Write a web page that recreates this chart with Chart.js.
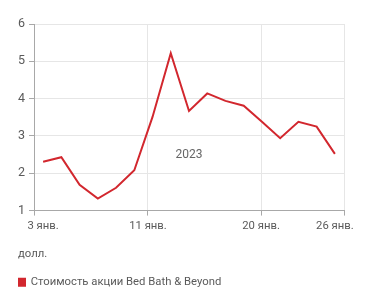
<!DOCTYPE html>
<html>
<head>
<meta charset="utf-8">
<script src="https://cdn.jsdelivr.net/npm/chart.js@4"></script>
<style>
  html, body { margin: 0; padding: 0; background: #fff; }
  #wrap { width: 371px; height: 303px; }
</style>
</head>
<body>
<div id="wrap"><canvas id="chart"></canvas></div>
<script>
// Bed Bath & Beyond share price, trading days 3–26 Jan 2023 (USD)
const prices = [2.31, 2.43, 1.69, 1.32, 1.61, 2.08, 3.51, 5.22, 3.67, 4.14, 3.94, 3.81, 3.38, 2.94, 3.38, 3.25, 2.52];
const dayIndex = prices.map((_, i) => i);

// x axis: grid/tick positions and the labels under them (trading-day index)
const gridTicks = [-0.5, 5.75, 11.95, 16.5];
const labelTicks = [0, 5.75, 11.95, 16];
const xLabels = ['3 янв.', '11 янв.', '20 янв.', '26 янв.'];

const yTicks = [1, 2, 3, 4, 5, 6];

const seriesName = 'Стоимость акции Bed Bath & Beyond';
const unitLabel = 'долл.';
const yearLabel = '2023';

const RED = '#d2272e';
const GRID = '#e6e6e6';
const AXIS = '#a8a8a8';
const TEXT = '#5a5a5a';
const FONT = 'Roboto';

// ── Year annotation in the middle of the plot ──
const yearPlugin = {
    id: 'yearLabel',
    afterDatasetsDraw(chart) {
        const { ctx, scales } = chart;
        ctx.save();
        ctx.font = `12px "${FONT}"`;
        ctx.fillStyle = '#666';
        ctx.textAlign = 'center';
        ctx.textBaseline = 'middle';
        ctx.fillText(yearLabel, scales.x.getPixelForValue(8), scales.y.getPixelForValue(2.5));
        ctx.restore();
    },
};

new Chart(document.getElementById('chart'), {
    type: 'line',
    data: {
        datasets: [{
            label: seriesName,
            data: dayIndex.map(i => ({ x: i, y: prices[i] })),
            borderColor: RED,
            backgroundColor: RED,
            borderWidth: 2,
            pointRadius: 0,
            tension: 0,
        }],
    },
    options: {
        responsive: true,
        maintainAspectRatio: false,
        animation: false,
        layout: { padding: { top: 24, left: 18, right: 27, bottom: 5 } },
        plugins: {
            tooltip: { enabled: false },
            title: {
                display: true,
                text: unitLabel,
                position: 'bottom',
                align: 'start',
                weight: 500,
                color: TEXT,
                font: { family: FONT, size: 11.3, weight: 'normal' },
                padding: { top: 18, bottom: 16 },
            },
            legend: {
                position: 'bottom',
                align: 'start',
                weight: 1000,
                labels: {
                    color: TEXT,
                    font: { family: FONT, size: 11.3 },
                    boxWidth: 7,
                    boxHeight: 7,
                    padding: 0,
                },
            },
        },
        scales: {
            x: {
                type: 'linear',
                position: 'bottom',
                min: -0.5,
                max: 16.5,
                afterBuildTicks: s => { s.ticks = gridTicks.map(v => ({ value: v })); },
                afterFit: s => { s.height = 5; },
                ticks: { display: false },
                grid: { color: GRID, tickColor: AXIS, tickLength: 5 },
                border: { color: AXIS, width: 1 },
            },
            x2: {
                type: 'linear',
                position: 'bottom',
                min: -0.5,
                max: 16.5,
                afterBuildTicks: s => { s.ticks = labelTicks.map(v => ({ value: v })); },
                ticks: {
                    autoSkip: false,
                    maxRotation: 0,
                    padding: -4,
                    color: TEXT,
                    font: { family: FONT, size: 11.3 },
                    callback: (v, i) => xLabels[i],
                },
                grid: { display: false },
                border: { display: false },
            },
            y: {
                min: 1,
                max: 6,
                afterBuildTicks: s => { s.ticks = yTicks.map(v => ({ value: v })); },
                afterFit: s => { s.width = 16; },
                ticks: {
                    padding: 4,
                    color: TEXT,
                    font: { family: FONT, size: 12.5 },
                },
                grid: { color: GRID, tickColor: AXIS, tickLength: 5 },
                border: { color: AXIS, width: 1 },
            },
        },
    },
    plugins: [yearPlugin],
});
</script>
</body>
</html>
